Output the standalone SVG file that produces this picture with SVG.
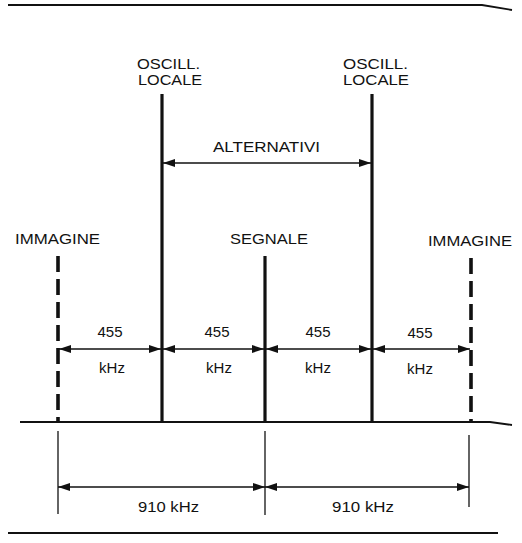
<svg xmlns="http://www.w3.org/2000/svg" width="522" height="543" viewBox="0 0 522 543">
<style>
text{font-family:"Liberation Sans",Arial,sans-serif;fill:#111;}
.lbl{font-size:15px;}
.osc{font-size:14px;}
.num{font-size:15px;text-anchor:middle;}
.sig{stroke:#111;stroke-width:3.2;fill:none;}
.dash{stroke:#111;stroke-width:3.6;fill:none;stroke-dasharray:16 7;}
.dim{stroke:#111;stroke-width:1.3;fill:none;}
.rule{stroke:#111;stroke-width:1.8;fill:none;}
</style>
<defs>
<marker id="ah" viewBox="0 0 12 8" refX="12" refY="4" markerWidth="12" markerHeight="8" markerUnits="userSpaceOnUse" orient="auto-start-reverse">
<path d="M0,0 L12,4 L0,8 Z" fill="#111"/>
</marker>
</defs>
<g id="frame">
<path class="rule" d="M8,5 L482,5 L512,10"/>
<path class="rule" d="M20,422 L490,422 L512,425"/>
<path class="rule" d="M8,533 L498,533" stroke-width="1.4"/>
</g>
<g id="immagine-left">
<line class="dash" x1="58" y1="256" x2="58" y2="422"/>
<text class="lbl" x="15" y="244" textLength="85" lengthAdjust="spacingAndGlyphs">IMMAGINE</text>
</g>
<g id="oscill-left">
<line class="sig" x1="162" y1="94" x2="162" y2="422"/>
<text class="osc" x="137" y="69" textLength="63" lengthAdjust="spacingAndGlyphs">OSCILL.</text>
<text class="osc" x="138" y="85" textLength="64" lengthAdjust="spacingAndGlyphs">LOCALE</text>
</g>
<g id="segnale">
<line class="sig" x1="265" y1="256" x2="265" y2="422"/>
<text class="lbl" x="230" y="244" textLength="78" lengthAdjust="spacingAndGlyphs">SEGNALE</text>
</g>
<g id="oscill-right">
<line class="sig" x1="372" y1="94" x2="372" y2="422"/>
<text class="osc" x="343" y="69" textLength="65" lengthAdjust="spacingAndGlyphs">OSCILL.</text>
<text class="osc" x="343" y="85" textLength="66" lengthAdjust="spacingAndGlyphs">LOCALE</text>
</g>
<g id="immagine-right">
<line class="dash" x1="471" y1="258" x2="471" y2="422"/>
<text class="lbl" x="428" y="246" textLength="84" lengthAdjust="spacingAndGlyphs">IMMAGINE</text>
</g>
<g id="connectors">
<line class="dim" x1="163" y1="163" x2="371" y2="163" marker-start="url(#ah)" marker-end="url(#ah)"/>
<line class="dim" x1="59" y1="349" x2="161" y2="349" marker-start="url(#ah)" marker-end="url(#ah)"/>
<line class="dim" x1="163" y1="349" x2="264" y2="349" marker-start="url(#ah)" marker-end="url(#ah)"/>
<line class="dim" x1="266" y1="349" x2="371" y2="349" marker-start="url(#ah)" marker-end="url(#ah)"/>
<line class="dim" x1="373" y1="349" x2="470" y2="349" marker-start="url(#ah)" marker-end="url(#ah)"/>
<line class="dim" x1="58" y1="431" x2="58" y2="514"/>
<line class="dim" x1="265" y1="431" x2="265" y2="515"/>
<line class="dim" x1="469" y1="435" x2="469" y2="507"/>
<line class="dim" x1="58" y1="487" x2="265" y2="487" marker-start="url(#ah)" marker-end="url(#ah)"/>
<line class="dim" x1="265" y1="487" x2="469" y2="487" marker-start="url(#ah)" marker-end="url(#ah)"/>
</g>
<g id="labels">
<text class="lbl" x="213" y="152" textLength="107" lengthAdjust="spacingAndGlyphs">ALTERNATIVI</text>
<text class="num" x="110" y="337">455</text>
<text class="num" x="112" y="373">kHz</text>
<text class="num" x="217" y="337">455</text>
<text class="num" x="219" y="373">kHz</text>
<text class="num" x="318" y="337">455</text>
<text class="num" x="318" y="373">kHz</text>
<text class="num" x="420" y="338">455</text>
<text class="num" x="420" y="374">kHz</text>
<text class="lbl" x="138" y="512" textLength="61" lengthAdjust="spacingAndGlyphs">910 kHz</text>
<text class="lbl" x="332" y="512" textLength="62" lengthAdjust="spacingAndGlyphs">910 kHz</text>
</g>
</svg>
